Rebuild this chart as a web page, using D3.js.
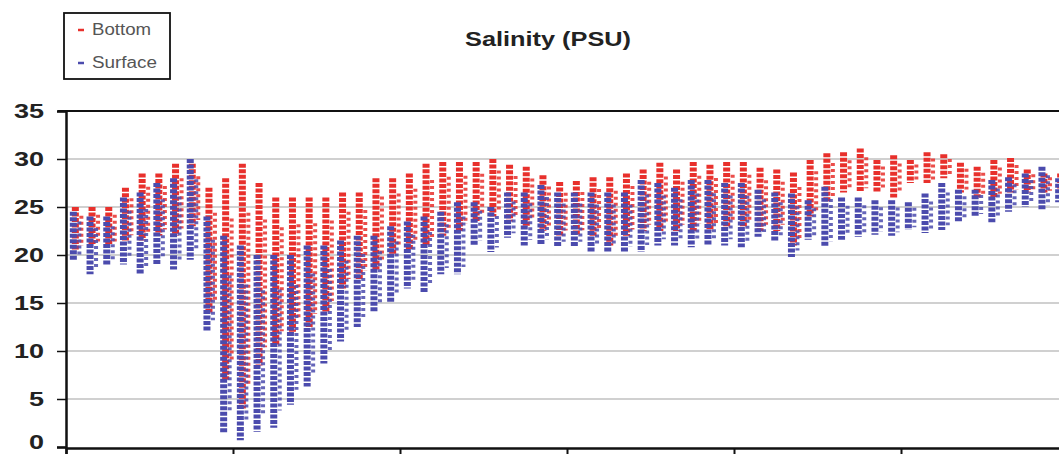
<!DOCTYPE html>
<html><head><meta charset="utf-8">
<script src="https://cdn.jsdelivr.net/npm/d3@7"></script>
<style>body{margin:0;background:#fff}svg{display:block}</style>
</head><body>
<script>
// Tidal cycle index (day) for each column of readings
const cycles = d3.range(60);
// Bottom salinity: per-cycle min and max (PSU)
const bottomMax = [25,25,25,27,28.5,28.5,29.5,29.5,27,28,29.5,27.5,26,26,26,26,26.5,26.5,28,28,28.5,29.5,29.7,29.7,29.7,30,29.4,29.2,28.3,27.6,27.7,28.1,28.1,28.5,28.9,29.6,28.9,29.7,29.4,29.7,29.7,29.1,28.9,28.6,29.9,30.6,30.7,31.1,29.9,30.4,29.9,30.7,30.5,29.6,29.2,29.9,30.1,28.9,28.5,28.5];
const bottomMin = [20.5,21,21,21.5,21.5,22,22,23,14,7,4,8.5,10.5,12,12.5,14,16.5,17.5,18.5,20,20.5,21,22,22.5,23.5,24,23.5,23,22.5,22,22,22,21,22,22.5,22.5,22.5,22.5,22.5,23,23,22.5,22.5,21,24,25.5,26.5,26.5,26.5,26,27.5,27.5,28,26.5,26,26,26.5,26.5,26.5,26.5];
// Surface salinity: per-cycle min and max (PSU)
const surfaceMax = [24.5,24,24,26,26.5,27.5,28,30,24,22,21,20,20,20,21,21,21.5,22,22,23,23.5,24,24.5,25.5,25.5,25,26.5,26.5,27.3,26.5,26.5,26.5,26.5,26.5,27.8,27.5,27,27.8,27.8,27.5,27.5,26.8,26.5,26.4,25.7,27.1,26,26,25.7,25.7,25.5,26.4,27.5,26.8,26.8,27.8,28.1,28.5,29.2,28];
const surfaceMin = [19.5,18,19,19,18,19,18.5,19.5,12,1.5,0.7,1.6,2,4.4,6.3,8.7,11,12.5,14,15,16.5,16,18,18,21,20.3,21.8,21,21,20.8,20.8,20.3,20.3,20.2,20.3,21,21,20.8,21,21,20.8,21.9,21.5,19.8,21.6,20.8,21.6,21.9,22.1,22,22.6,22.3,22.6,23.4,24,23.4,24.5,25,24.7,25.5];
const yTicks = [0,5,10,15,20,25,30,35];
const xTicks = [0,10,20,30,40,50,60];
const seriesNames = ["Bottom","Surface"];
const seriesColors = ["#e8302c","#4b4bad"];

const W = 1059, H = 454;
const FONT = "Liberation Sans, Arial, sans-serif";
const svg = d3.select("body").append("svg").attr("width", W).attr("height", H);
const x = d3.scaleLinear().domain([0, 60]).range([66, 1068]);
const y = d3.scaleLinear().domain([0, 35]).range([447, 111]);

// gridlines
svg.append("g").selectAll("line").data(yTicks.filter(d => d > 0 && d < 35)).join("line")
  .attr("x1", 66).attr("x2", W).attr("y1", d => y(d)).attr("y2", d => y(d))
  .attr("stroke", "#d0d0d0").attr("stroke-width", 2);

// data columns
function drawSeries(minArr, maxArr, color, dx) {
  const rows = cycles.map(i => ({c: i + 0.5, lo: minArr[i], hi: maxArr[i]}));
  const g = svg.append("g");
  g.selectAll("line.a").data(rows).join("line").attr("class", "a")
    .attr("x1", d => x(d.c) + dx).attr("x2", d => x(d.c) + dx)
    .attr("y1", d => y(d.hi)).attr("y2", d => y(d.lo))
    .attr("stroke", color).attr("stroke-width", 7)
    .attr("stroke-dasharray", "4 1.5");
  g.selectAll("line.b").data(rows).join("line").attr("class", "b")
    .attr("x1", d => x(d.c) + dx + 6).attr("x2", d => x(d.c) + dx + 6)
    .attr("y1", d => y(d.hi - (d.hi - d.lo) * 0.2)).attr("y2", d => y(d.lo + (d.hi - d.lo) * 0.1))
    .attr("stroke", color).attr("stroke-width", 4)
    .attr("stroke-dasharray", "3 3").attr("opacity", 0.85);
}
drawSeries(bottomMin, bottomMax, seriesColors[0], 1);
drawSeries(surfaceMin, surfaceMax, seriesColors[1], -1);

// top border
svg.append("line").attr("x1", 58).attr("x2", W).attr("y1", 111).attr("y2", 111)
  .attr("stroke", "#111").attr("stroke-width", 2);

// y axis
const yAxis = svg.append("g").attr("transform", "translate(66,0)")
  .call(d3.axisLeft(y).tickValues(yTicks).tickSize(9).tickPadding(13));
yAxis.select(".domain").attr("stroke", "#111").attr("stroke-width", 2.5);
yAxis.selectAll(".tick line").attr("stroke", "#111").attr("stroke-width", 1.5);
yAxis.selectAll("text").attr("font-family", FONT)
  .attr("font-size", 20).attr("font-weight", "bold").attr("fill", "#222")
  .attr("textLength", d => String(d).length > 1 ? 30 : 15)
  .attr("lengthAdjust", "spacingAndGlyphs")
  .attr("dy", d => d === 0 ? "0.05em" : "0.32em");

// x axis
const xAxis = svg.append("g").attr("transform", "translate(0,448)")
  .call(d3.axisBottom(x).tickValues(xTicks).tickSize(7).tickFormat(""));
xAxis.select(".domain").attr("stroke", "#111").attr("stroke-width", 2.5);
xAxis.selectAll(".tick line").attr("stroke", "#111").attr("stroke-width", 2);

// title
svg.append("text").attr("x", 548).attr("y", 46).attr("text-anchor", "middle")
  .attr("font-family", FONT).attr("font-weight", "bold")
  .attr("font-size", 21).attr("fill", "#222")
  .attr("textLength", 166).attr("lengthAdjust", "spacingAndGlyphs")
  .text("Salinity (PSU)");

// legend
const lg = svg.append("g");
lg.append("rect").attr("x", 64).attr("y", 13).attr("width", 106).attr("height", 66)
  .attr("fill", "#fff").attr("stroke", "#111").attr("stroke-width", 1.8);
seriesNames.forEach((n, i) => {
  const yy = 30 + i * 33;
  lg.append("line").attr("x1", 78).attr("x2", 84).attr("y1", yy).attr("y2", yy)
    .attr("stroke", seriesColors[i]).attr("stroke-width", 2.5);
  lg.append("text").attr("x", 92).attr("y", yy + 5).attr("font-family", FONT)
    .attr("font-size", 16).attr("fill", "#555")
    .attr("textLength", i === 0 ? 59 : 65).attr("lengthAdjust", "spacingAndGlyphs")
    .text(n);
});
</script>
</body></html>
